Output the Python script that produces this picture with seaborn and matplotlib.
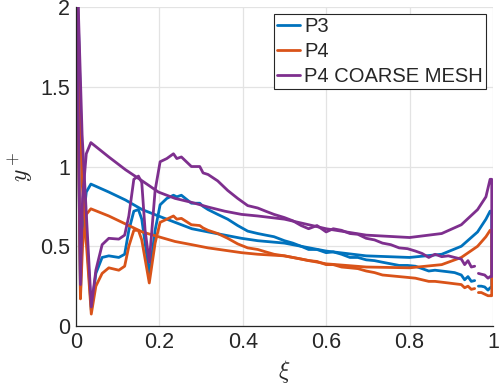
import numpy as np
import pandas as pd
import matplotlib
matplotlib.use('Agg')
import matplotlib.pyplot as plt
from matplotlib.ticker import FormatStrFormatter
import seaborn as sns

cases = ['P3', 'P4', 'P4 COARSE MESH']
colors = ['#0072BD', '#D95319', '#7E2F8E']

# smooth branch (xi from 0 to 1)
xs = [0, 0.011, 0.016, 0.025, 0.036, 0.079, 0.119, 0.159, 0.198, 0.238, 0.278,
      0.317, 0.357, 0.397, 0.436, 0.5, 0.6, 0.696, 0.8, 0.877, 0.924, 0.963,
      0.983, 0.993, 0.997]
p3_s = [2.5, 0.20, 0.62, 0.84, 0.89, 0.84, 0.79, 0.73, 0.69, 0.65, 0.61, 0.59,
        0.57, 0.55, 0.535, 0.52, 0.47, 0.44, 0.43, 0.45, 0.50, 0.59, 0.67, 0.72, 0.72]
p4_s = [2.5, 0.17, 0.50, 0.70, 0.735, 0.69, 0.64, 0.59, 0.56, 0.53, 0.51, 0.49,
        0.475, 0.46, 0.45, 0.44, 0.39, 0.37, 0.365, 0.385, 0.43, 0.50, 0.56, 0.60, 0.60]
p4c_s = [2.5, 0.26, 0.80, 1.08, 1.15, 1.06, 0.98, 0.91, 0.84, 0.80, 0.775, 0.746,
         0.72, 0.70, 0.69, 0.67, 0.61, 0.57, 0.555, 0.58, 0.635, 0.73, 0.81, 0.92, 0.92]

# wavy branch, left part (xi from 0 to 0.956)
xw = [0, 0.015, 0.037, 0.048, 0.063, 0.079, 0.103, 0.117, 0.127, 0.139, 0.15,
      0.158, 0.166, 0.176, 0.19, 0.202, 0.218, 0.234, 0.242, 0.253, 0.277, 0.297,
      0.305, 0.317, 0.34, 0.364, 0.388, 0.412, 0.436, 0.455, 0.475, 0.5, 0.52,
      0.54, 0.558, 0.578, 0.6, 0.617, 0.637, 0.657, 0.676, 0.696, 0.716, 0.735,
      0.755, 0.775, 0.795, 0.814, 0.83, 0.846, 0.861, 0.877, 0.893, 0.908, 0.924,
      0.932, 0.94, 0.948, 0.956]
p3_w = [2.5, 1.0, 0.10, 0.33, 0.43, 0.44, 0.43, 0.45, 0.60, 0.72, 0.73, 0.67, 0.52,
        0.32, 0.60, 0.76, 0.80, 0.82, 0.81, 0.82, 0.77, 0.77, 0.75, 0.73, 0.70, 0.67,
        0.63, 0.595, 0.58, 0.57, 0.56, 0.535, 0.52, 0.50, 0.48, 0.48, 0.46, 0.465,
        0.45, 0.43, 0.43, 0.415, 0.41, 0.40, 0.39, 0.38, 0.38, 0.375, 0.36, 0.345,
        0.35, 0.345, 0.34, 0.335, 0.32, 0.29, 0.31, 0.28, 0.285]
p4_w = [2.5, 0.9, 0.075, 0.25, 0.33, 0.365, 0.35, 0.375, 0.50, 0.60, 0.60, 0.54, 0.42,
        0.27, 0.52, 0.65, 0.67, 0.69, 0.67, 0.675, 0.635, 0.63, 0.615, 0.60, 0.58,
        0.55, 0.515, 0.49, 0.48, 0.465, 0.45, 0.44, 0.43, 0.42, 0.41, 0.405, 0.385,
        0.385, 0.37, 0.365, 0.36, 0.345, 0.335, 0.32, 0.315, 0.31, 0.305, 0.30, 0.29,
        0.28, 0.28, 0.275, 0.27, 0.265, 0.26, 0.24, 0.25, 0.23, 0.235]
p4c_w = [2.5, 1.2, 0.12, 0.35, 0.51, 0.55, 0.545, 0.57, 0.69, 0.92, 0.94, 0.90, 0.60,
         0.40, 0.85, 1.03, 1.05, 1.08, 1.05, 1.06, 1.00, 1.00, 0.96, 0.95, 0.91, 0.85,
         0.80, 0.755, 0.74, 0.72, 0.70, 0.68, 0.66, 0.63, 0.61, 0.63, 0.59, 0.61,
         0.60, 0.58, 0.575, 0.55, 0.54, 0.52, 0.51, 0.49, 0.485, 0.47, 0.455, 0.43,
         0.45, 0.435, 0.44, 0.43, 0.42, 0.385, 0.41, 0.37, 0.375]

# wavy branch, right part near trailing edge
xr = [0.965, 0.972, 0.98, 0.988, 0.993, 0.997]
p3_r = [0.25, 0.25, 0.245, 0.225, 0.24, 0.24]
p4_r = [0.21, 0.21, 0.20, 0.19, 0.19, 0.19]
p4c_r = [0.33, 0.325, 0.32, 0.30, 0.31, 0.31]

smooth = [p3_s, p4_s, p4c_s]
wavy = [p3_w, p4_w, p4c_w]
right = [p3_r, p4_r, p4c_r]

rows = []
for name, s, w, r in zip(cases, smooth, wavy, right):
    # first piece: smooth 0 -> 1, then back along the wavy side to the gap
    xa = xs + xr[::-1]
    ya = s + r[::-1]
    for x, y in zip(xa, ya):
        rows.append((name, 'a', x, y))
    for x, y in zip(xw, w):
        rows.append((name, 'b', x, y))
df = pd.DataFrame(rows, columns=['case', 'part', 'xi', 'yplus'])

sns.set_style('white')
plt.rcParams['font.family'] = ['Liberation Sans', 'DejaVu Sans']
plt.rcParams['mathtext.fontset'] = 'cm'

fig = plt.figure(figsize=(4.99, 3.90), dpi=100)
ax = fig.add_axes([0.152, 0.164, 0.836, 0.818])

sns.lineplot(data=df, x='xi', y='yplus', hue='case', units='part',
             estimator=None, sort=False, palette=colors, hue_order=cases,
             linewidth=2.0, ax=ax)

ax.set_xlim(0, 1)
ax.set_ylim(0, 2)
ax.set_xticks([0, 0.2, 0.4, 0.6, 0.8, 1])
ax.set_yticks([0, 0.5, 1, 1.5, 2])
ax.xaxis.set_major_formatter(FormatStrFormatter('%g'))
ax.yaxis.set_major_formatter(FormatStrFormatter('%g'))
ax.grid(True, color='#e3e3e3', linewidth=0.9)
ax.set_axisbelow(True)
for side in ['top', 'right']:
    ax.spines[side].set_visible(False)
for side in ['left', 'bottom']:
    ax.spines[side].set_color('#262626')
    ax.spines[side].set_linewidth(0.9)
ax.tick_params(direction='in', length=4, width=0.9, colors='#262626',
               labelsize=15.5, labelcolor='#262626', pad=4)

ax.set_xlabel(r'$\xi$', fontsize=17, color='#262626', labelpad=4)
ax.set_ylabel(r'$y^+$', fontsize=17, color='#262626', labelpad=4)

leg = ax.legend(loc='upper right', fontsize=14.5, frameon=True, fancybox=False,
                edgecolor='#262626', framealpha=1, handlelength=1.15,
                handletextpad=0.2, borderpad=0.15, labelspacing=0.3,
                borderaxespad=0.35)
leg.get_frame().set_linewidth(0.8)
for line in leg.get_lines():
    line.set_linewidth(2.0)

fig.savefig('out.png', dpi=100)
